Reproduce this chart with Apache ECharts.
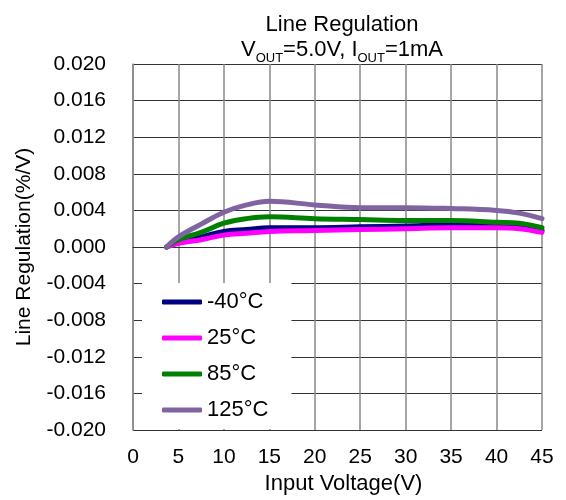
<!DOCTYPE html>
<html>
<head>
<meta charset="utf-8">
<script src="https://cdn.jsdelivr.net/npm/echarts@6/dist/echarts.min.js"></script>
<style>html,body{margin:0;padding:0;background:#fff;}#c{width:566px;height:500px;}</style>
</head>
<body>
<div id="c"></div>
<script>
var voltage = [3.7, 5, 7.5, 10, 12.5, 15, 20, 25, 30, 35, 40, 42.5, 45];
var tempNeg40 = [0, 0.0006, 0.0011, 0.0017, 0.0019, 0.0021, 0.0021, 0.0022, 0.0023, 0.0024, 0.0024, 0.0023, 0.0018];
var temp25 = [0, 0.0004, 0.0008, 0.0013, 0.0015, 0.0017, 0.0018, 0.0019, 0.0020, 0.0021, 0.0021, 0.0020, 0.0016];
var temp85 = [0, 0.0008, 0.0016, 0.0026, 0.0031, 0.0033, 0.0031, 0.0030, 0.0029, 0.0029, 0.0027, 0.0026, 0.0021];
var temp125 = [0, 0.0011, 0.0025, 0.0038, 0.0046, 0.0050, 0.0046, 0.0043, 0.0043, 0.0042, 0.0040, 0.0037, 0.0031];
var seriesNames = ['-40°C', '25°C', '85°C', '125°C'];
var seriesColors = ['#000080', '#FF00FF', '#008000', '#8064A2'];
var seriesData = [tempNeg40, temp25, temp85, temp125];

function pairs(ys) { return voltage.map(function (v, i) { return [v, ys[i]]; }); }

var font = 'Liberation Sans, Arial, sans-serif';
var chart = echarts.init(document.getElementById('c'), null, { renderer: 'canvas' });
chart.setOption({
  animation: false,
  backgroundColor: '#fff',
  textStyle: { fontFamily: font },
  title: {
    left: 337, top: 7, textAlign: 'center',
    text: '{n|Line Regulation}\n{n|V}{s|OUT}{n|=5.0V, I}{s|OUT}{n|=1mA}',
    textStyle: {
      fontWeight: 'normal',
      rich: {
        n: { fontSize: 22, fontFamily: font, fontWeight: 'normal', color: '#000', lineHeight: 25 },
        s: { fontSize: 13, fontFamily: font, fontWeight: 'normal', color: '#000', lineHeight: 25, verticalAlign: 'bottom', padding: [0, 0, -3, 0] }
      }
    }
  },
  grid: { left: 133, right: 24, top: 64, bottom: 66, containLabel: false },
  legend: {
    orient: 'vertical', left: 142, top: 283,
    backgroundColor: '#fff',
    padding: [8, 23, 8, 20],
    itemWidth: 40, itemHeight: 5, itemGap: 14,
    icon: 'roundRect',
    textStyle: { fontSize: 22, color: '#000', fontFamily: font },
    data: seriesNames
  },
  xAxis: {
    type: 'value', min: 0, max: 45, interval: 5,
    name: 'Input Voltage(V)', nameLocation: 'middle', nameGap: 43,
    nameTextStyle: { fontSize: 22, color: '#000', fontFamily: font, padding: [0, 0, 0, 12] },
    axisLine: { show: true, lineStyle: { color: '#333', width: 1 } },
    axisTick: { show: false },
    axisLabel: { fontSize: 21, color: '#000', margin: 17, fontFamily: font },
    splitLine: { show: true, lineStyle: { color: '#888', width: 1.5 } }
  },
  yAxis: {
    type: 'value', min: -0.02, max: 0.02, interval: 0.004,
    name: 'Line Regulation(%/V)', nameLocation: 'middle', nameGap: 98,
    nameTextStyle: { fontSize: 21, color: '#000', fontFamily: font },
    axisLine: { show: true, lineStyle: { color: '#888', width: 1.5 } },
    axisTick: { show: false },
    axisLabel: { fontSize: 21, color: '#000', margin: 27, fontFamily: font,
      formatter: function (v) { return v.toFixed(3); } },
    splitLine: { show: true, lineStyle: { color: '#333', width: 1 } }
  },
  series: seriesData.map(function (d, i) {
    return {
      name: seriesNames[i], type: 'line', data: pairs(d), smooth: 0.4,
      showSymbol: false, symbol: 'none',
      lineStyle: { color: seriesColors[i], width: 5, cap: 'round' },
      itemStyle: { color: seriesColors[i] }
    };
  })
});
</script>
</body>
</html>
